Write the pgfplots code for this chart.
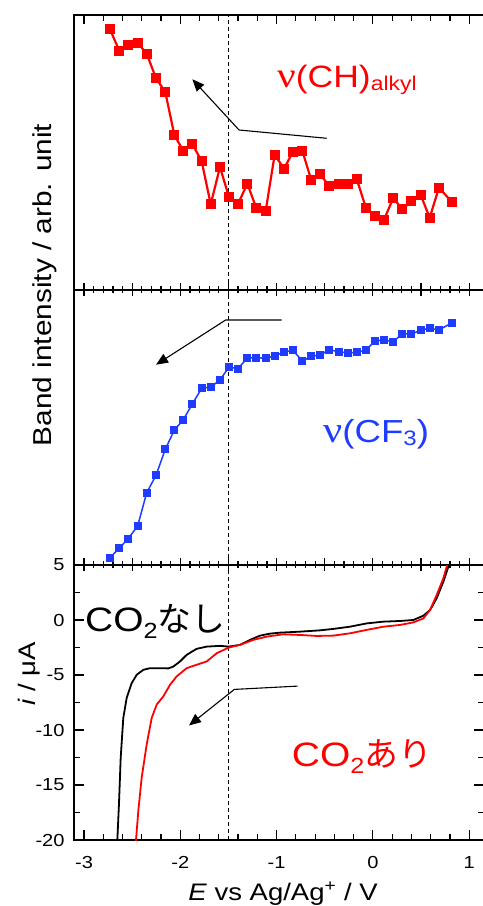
\documentclass[border=0pt]{standalone}
\usepackage{pgfplots}
\pgfplotsset{compat=1.18}
\usepackage{fontspec}
\setmainfont{Liberation Sans}
\newfontfamily\jp{Noto Sans CJK JP}
\newfontfamily\grk{Liberation Serif}
\usetikzlibrary{arrows.meta}
\definecolor{cvred}{RGB}{255,0,0}
\definecolor{irblue}{RGB}{30,60,255}
\newcommand\hs[1]{\scalebox{1.15}[1]{#1}}
\newcommand\fs[1]{\fontsize{#1}{#1}\selectfont}

\pgfplotstableread{
E y
-2.730 260.7
-2.633 239.0
-2.540 244.7
-2.442 247.0
-2.349 236.3
-2.252 211.7
-2.156 198.0
-2.062 155.0
-1.969 139.3
-1.875 146.0
-1.778 128.7
-1.684 85.7
-1.588 123.0
-1.494 92.7
-1.401 86.0
-1.304 106.3
-1.211 82.0
-1.113 79.3
-1.020 135.3
-0.923 121.3
-0.830 138.3
-0.733 139.3
-0.640 110.0
-0.546 115.7
-0.453 103.7
-0.355 106.0
-0.262 106.0
-0.168 111.0
-0.072 82.0
0.022 74.3
0.115 70.3
0.212 92.0
0.305 80.7
0.399 88.7
0.496 95.0
0.590 72.3
0.686 102.3
0.818 88.3
}\CHdata

\pgfplotstableread{
E y
-2.730 7.3
-2.633 17.0
-2.540 26.3
-2.442 39.3
-2.349 72.3
-2.252 89.7
-2.156 115.7
-2.062 135.0
-1.969 145.3
-1.875 161.0
-1.778 176.7
-1.684 178.0
-1.588 185.0
-1.494 198.0
-1.401 196.3
-1.304 207.0
-1.211 207.3
-1.113 206.7
-1.020 209.0
-0.923 213.0
-0.830 214.7
-0.733 204.0
-0.640 208.7
-0.546 210.0
-0.453 215.3
-0.355 213.3
-0.262 212.0
-0.168 212.7
-0.072 214.7
0.022 224.3
0.115 225.0
0.212 223.3
0.305 231.3
0.399 230.7
0.496 235.0
0.590 236.7
0.686 235.0
0.818 242.0
}\CFdata

\pgfplotstableread{
E i
-2.657 -20.5
-2.654 -20.0
-2.637 -16.74
-2.619 -12.52
-2.592 -8.90
-2.557 -7.09
-2.505 -5.74
-2.453 -4.98
-2.384 -4.53
-2.315 -4.38
-2.211 -4.38
-2.124 -4.40
-2.072 -4.23
-2.003 -3.77
-1.934 -3.17
-1.830 -2.62
-1.726 -2.42
-1.588 -2.35
-1.498 -2.42
-1.380 -2.26
-1.276 -1.81
-1.172 -1.42
-1.069 -1.24
-0.965 -1.15
-0.757 -1.06
-0.549 -0.94
-0.411 -0.81
-0.238 -0.61
-0.065 -0.31
0.108 -0.15
0.281 -0.09
0.420 0.00
0.524 0.39
0.593 0.90
0.662 1.96
0.731 3.47
0.783 4.82
0.790 5.3
}\CVnone

\pgfplotstableread{
E i
-2.463 -20.5
-2.460 -20.0
-2.436 -17.35
-2.401 -14.33
-2.349 -11.31
-2.297 -8.90
-2.245 -7.69
-2.176 -6.94
-2.107 -5.89
-2.038 -5.13
-1.934 -4.38
-1.830 -4.07
-1.726 -3.77
-1.622 -3.02
-1.498 -2.51
-1.380 -2.26
-1.242 -1.81
-1.103 -1.51
-0.930 -1.30
-0.757 -1.36
-0.584 -1.45
-0.411 -1.42
-0.238 -1.21
-0.065 -0.90
0.108 -0.61
0.281 -0.45
0.420 -0.22
0.524 0.14
0.593 0.90
0.662 2.26
0.731 3.77
0.766 4.82
0.772 5.3
}\CVco

\pgfplotsset{
  panel/.style={scale only axis, width=410bp, height=275bp,
    xmin=-3.104, xmax=1.154,
    axis line style={line width=1.6bp},
    every tick/.style={black, line width=1.2bp}},
}

\begin{document}
\begin{tikzpicture}
\useasboundingbox (-74bp,-66bp) rectangle (409bp,840bp);

% ---------- top panel ----------
\begin{axis}[panel, at={(0bp,550bp)}, anchor=south west,
  ymin=0, ymax=275, ytick=\empty,
  xtick={-3,-2,-1,0,1}, minor x tick num=4, xtick pos=right,
  xticklabels=\empty, tick align=inside,
  major tick length=9bp, minor tick length=6bp]
\draw[line width=1.1bp, dash pattern=on 4bp off 3bp] (axis cs:-1.5,0) -- (axis cs:-1.5,275);
\addplot[cvred, line width=2.2bp, mark=square*, mark size=4bp] table[x=E,y=y] {\CHdata};
\draw[line width=1.1bp, -{Triangle[length=12bp,width=10bp]}]
  (axis cs:-0.480,151.7) -- (axis cs:-1.390,160) -- (axis cs:-1.875,210.7);
\node[anchor=base west, inner sep=0, text=cvred, font=\fs{31}]
  at (axis cs:-0.996,202) {\hs{{\grk\fs{36}ν}(CH)\raisebox{-3bp}{\fs{20}alkyl}}};
\end{axis}

% ---------- middle panel ----------
\begin{axis}[panel, at={(0bp,275bp)}, anchor=south west,
  ymin=0, ymax=275, ytick=\empty,
  xtick={-3,-2.5,...,1}, minor x tick num=4, xtick pos=both,
  xticklabels=\empty, tick align=center,
  major tick length=13bp, minor tick length=7bp]
\draw[line width=1.1bp, dash pattern=on 4bp off 3bp] (axis cs:-1.5,0) -- (axis cs:-1.5,275);
\addplot[irblue, line width=1.5bp, mark=square*, mark size=3.3bp] table[x=E,y=y] {\CFdata};
\draw[line width=1.1bp, -{Triangle[length=12bp,width=10bp]}]
  (axis cs:-0.947,245) -- (axis cs:-1.529,245) -- (axis cs:-2.252,200.3);
\node[anchor=base west, inner sep=0, text=irblue, font=\fs{32}]
  at (axis cs:-0.518,122) {\hs{{\grk\fs{37}ν}(CF\raisebox{-3bp}{\fs{21}3})}};
\end{axis}

% ---------- bottom panel ----------
\begin{axis}[panel, at={(0bp,0bp)}, anchor=south west,
  ymin=-20, ymax=5,
  ytick={-20,-15,-10,-5,0,5},
  yticklabels={\hs{-20},\hs{-15},\hs{-10},\hs{-5},\hs{0},\hs{5}},
  minor y tick num=1, ytick pos=both,
  xtick={-3,-2,-1,0,1},
  xticklabels={\hs{-3},\hs{-2},\hs{-1},\hs{0},\hs{1}},
  minor x tick num=4, xtick pos=left, tick align=inside,
  major tick length=10bp, minor tick length=6bp,
  xticklabel style={font=\fs{17.5}, anchor=base, yshift=-28bp},
  yticklabel style={font=\fs{17.5}, xshift=-6bp}]
\draw[line width=1.1bp, dash pattern=on 4bp off 3bp] (axis cs:-1.5,-20) -- (axis cs:-1.5,5);
\addplot[black, line width=1.8bp] table[x=E,y=i] {\CVnone};
\addplot[cvred, line width=1.8bp] table[x=E,y=i] {\CVco};
\draw[line width=1.1bp, -{Triangle[length=12bp,width=10bp]}]
  (axis cs:-0.781,-6.01) -- (axis cs:-1.439,-6.31) -- (axis cs:-1.910,-9.59);
\node[anchor=base west, inner sep=0, font=\fs{34}]
  at (axis cs:-2.99,-1.06) {\hs{CO\raisebox{-7bp}{\fs{22}2}}{\jp なし}};
\node[anchor=base west, inner sep=0, text=cvred, font=\fs{34}]
  at (axis cs:-0.843,-13.28) {\hs{CO\raisebox{-7bp}{\fs{22}2}}{\jp あり}};
\end{axis}

% ---------- axis titles ----------
\node[rotate=90, anchor=base, font=\fs{26}] at (-23bp,555bp) {\hs{Band intensity / arb. unit}};
\node[rotate=90, anchor=base, font=\fs{24}] at (-39bp,166bp) {\hs{\textit{i} / μA}};
\node[anchor=base, font=\fs{24}] at (209bp,-60bp) {\hs{\textit{E} vs Ag/Ag\textsuperscript{+} / V}};
\end{tikzpicture}
\end{document}
